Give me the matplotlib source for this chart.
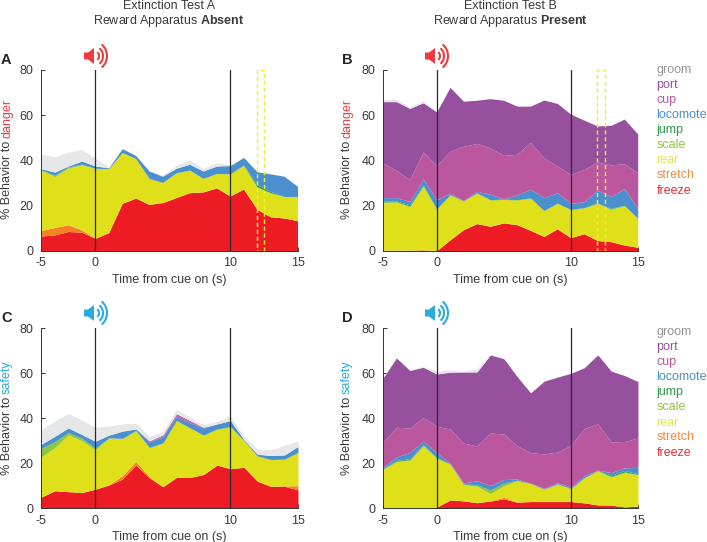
import numpy as np
import matplotlib
matplotlib.use("Agg")
import matplotlib.pyplot as plt
from matplotlib.patches import Polygon, Arc, Rectangle

plt.rcParams['font.family'] = ['Liberation Sans', 'DejaVu Sans']
plt.rcParams['mathtext.fontset'] = 'custom'
plt.rcParams['mathtext.bf'] = 'Liberation Sans:bold'
plt.rcParams['mathtext.rm'] = 'Liberation Sans'

W, H = 707, 542
seconds = list(range(-4, 16))
tick_pos = [-4, 0, 10, 15]
tick_labels = ['-5', '0', '10', '15']
y_ticks = [0, 20, 40, 60, 80]
behaviors = ['freeze', 'stretch', 'rear', 'scale', 'jump', 'locomote', 'cup', 'port', 'groom']
band_colors = ['#ED1C24', '#F58220', '#E0E01A', '#8DC63F', '#2E9B47', '#4A90CF', '#BA579E', '#96509E', '#E6E7E8']
legend_colors = ['#ED2F36', '#F58A3A', '#E3E34A', '#8DC63F', '#2E9B47', '#4A90CF', '#BA579E', '#96509E', '#939598']

# cumulative upper edge of each behaviour band
A_freeze = [6.5, 7, 8.5, 8.2, 5.5, 8, 21, 23.3, 20.5, 21.3, 23.5, 25.7, 26, 27.8, 24.2, 27.3, 18.3, 15, 14.5, 13.3]
A_stretch = [9, 10.3, 11.5, 9.2, 5.5, 8, 21, 23.3, 20.5, 21.3, 23.5, 25.7, 26, 27.8, 24.2, 27.3, 18.3, 15, 14.5, 13.3]
A_rear = [35.5, 32.8, 36.5, 38, 36.5, 36.3, 43.5, 40.8, 32, 30.2, 34.5, 35.7, 32, 34.2, 34, 37.8, 28, 25.5, 24, 24]
A_scale = [35.7, 33.3, 37, 38.2, 36.5, 36.3, 43.5, 40.8, 32, 30.2, 34.5, 35.7, 32, 34.2, 34, 37.8, 28.3, 25.7, 24, 24]
A_jump = [35.8, 33.4, 37.1, 38.3, 36.5, 36.3, 43.5, 40.8, 32, 30.2, 34.5, 35.7, 32, 34.2, 34, 38, 29.2, 26.3, 24, 24]
A_locomote = [36.3, 34.8, 37.5, 39.7, 37.5, 36.7, 45.2, 42.2, 35.3, 33, 36.5, 38.3, 35.3, 37.5, 37.7, 41.3, 35, 34, 33, 28.5]
A_cup = list(A_locomote)
A_port = list(A_locomote)
A_groom = [43, 41.5, 43.7, 44.7, 41, 37, 45.2, 42.4, 35.6, 33.4, 37.8, 40.2, 36.5, 39, 38, 41.3, 35, 34, 33, 28.5]

B_freeze = [0, 0, 0, 0.3, 0, 4.8, 9.3, 12, 10.8, 12.3, 11.5, 9, 6.3, 9.7, 5.8, 7.5, 4.5, 4, 2.5, 1.5]
B_stretch = [0.2, 0.2, 0.2, 0.4, 0, 4.8, 9.3, 12, 10.8, 12.3, 11.5, 9, 6.3, 9.7, 5.8, 7.5, 4.5, 4, 2.5, 1.5]
B_rear = [21.3, 21.5, 19.5, 28.5, 18.3, 24.7, 22, 25.5, 22.5, 22.7, 22.5, 23.3, 17.7, 21, 18.2, 19, 21, 18.2, 20, 14.3]
B_scale = [21.5, 21.7, 19.7, 28.7, 18.4, 24.7, 22, 25.5, 22.5, 22.7, 22.5, 23.3, 17.7, 21, 18.2, 19, 21, 18.5, 20, 14.3]
B_jump = [22, 22, 20.3, 29.2, 18.5, 24.8, 22.1, 25.6, 22.6, 22.8, 22.6, 23.4, 17.8, 21.1, 18.3, 19.1, 21.1, 18.8, 20.1, 14.4]
B_locomote = [23.5, 23.5, 21.8, 31.8, 22.5, 25.5, 22.2, 26.3, 25, 23, 24.7, 27.2, 23.5, 25.7, 21, 21.7, 26.8, 24, 27.5, 18.7]
B_cup = [38.8, 35.5, 31.5, 43.7, 37.8, 44, 46.2, 47.5, 45.5, 42.2, 42.7, 48, 41, 37.5, 33.7, 36, 39.3, 38, 38.5, 34.5]
B_port = [66, 66, 63, 65.5, 61.5, 72.3, 66.2, 66.6, 67.3, 66.6, 64, 64, 66.7, 65.2, 60.5, 57.8, 55.3, 55.5, 58.3, 51.7]
B_groom = [67, 67, 63.7, 66.3, 61.7, 72.3, 66.2, 66.6, 67.3, 66.6, 64, 64, 66.7, 65.2, 60.5, 57.8, 55.7, 55.7, 58.3, 51.7]

C_freeze = [5, 7.8, 7.4, 7, 8.5, 10.3, 13, 19.2, 13.5, 9.6, 13.7, 13.7, 15, 19.2, 17.6, 18.2, 12, 9.7, 9.8, 8.2]
C_stretch = [5, 7.8, 7.4, 7, 8.5, 10.5, 14.5, 20.8, 14, 9.6, 13.7, 13.7, 15, 19.2, 17.6, 18.2, 12, 9.8, 10, 10]
C_rear = [22.8, 27, 32.7, 30, 26, 31.3, 31, 34.5, 27, 29, 39, 35.7, 32.5, 35.2, 36.2, 30, 23.2, 21.6, 21.8, 24.8]
C_scale = [26.5, 29.5, 33.5, 31, 26.5, 31.3, 31, 34.5, 27, 29, 39, 35.7, 32.5, 35.2, 36.2, 30, 23.2, 21.6, 21.8, 24.8]
C_jump = [26.7, 29.7, 33.7, 31.2, 26.7, 31.4, 31.1, 34.6, 27.1, 29.1, 39.1, 35.8, 32.6, 35.3, 36.3, 30.1, 23.3, 21.7, 21.9, 24.9]
C_locomote = [28.5, 32, 35.7, 32.8, 29.8, 32.5, 34.3, 35.3, 29.5, 31.8, 40.7, 38, 35.7, 37.5, 39, 30.5, 24, 23.5, 23.7, 27.5]
C_cup = [28.5, 32, 35.7, 32.8, 29.8, 32.5, 34.3, 35.3, 29.7, 32.2, 41.5, 38.5, 35.9, 37.5, 39, 30.5, 24, 23.5, 23.7, 27.5]
C_port = [28.5, 32, 35.7, 32.8, 29.8, 32.5, 34.3, 35.3, 30, 32.6, 42, 39, 36, 37.5, 39, 30.5, 24, 23.5, 23.7, 27.5]
C_groom = [35, 38.8, 42.2, 39.3, 36, 36.5, 37.5, 37.8, 32, 34, 44, 40.5, 37.2, 38.7, 41, 32, 26.3, 26, 28, 30]

D_freeze = [0, 0, 0, 0, 0.5, 3.7, 3.3, 2.5, 3.2, 4.2, 2.7, 3, 3, 3, 3, 2.4, 1.5, 1.4, 0.6, 1]
D_stretch = [0, 0, 0, 0, 0.5, 3.7, 3.3, 2.5, 3.3, 4.9, 2.8, 3, 3, 3, 3, 2.4, 1.5, 1.4, 0.6, 1]
D_rear = [17.3, 20.7, 21.3, 27.8, 22.2, 19.5, 10.5, 9.8, 6.5, 10, 12.2, 11, 8.5, 10.8, 8.8, 13.5, 16.7, 13.8, 15.8, 14.8]
D_scale = [17.5, 20.9, 21.6, 28, 22.4, 19.7, 10.7, 10.3, 8, 11, 12.4, 11, 8.5, 10.8, 8.8, 13.6, 16.7, 14.2, 16.2, 15]
D_jump = [17.7, 21.3, 22, 28.3, 22.6, 19.8, 10.8, 10.5, 8.2, 11.3, 12.5, 11, 8.6, 10.9, 8.9, 13.7, 16.8, 14.8, 16.8, 15.3]
D_locomote = [18.2, 22.8, 24.8, 29.8, 24.8, 20, 11.3, 12.2, 10.2, 12.8, 13, 11.1, 8.9, 11.4, 9.5, 14.5, 17, 15.9, 18, 18.2]
D_cup = [29.3, 36, 35.7, 40.3, 36.5, 35.2, 29, 27.7, 33.5, 33, 27.8, 24.7, 24.2, 25, 28, 35.5, 37.5, 29.5, 29.7, 31.3]
D_port = [58, 66.8, 61.3, 62.7, 59.7, 60.5, 60.6, 60.6, 68.2, 66.5, 58.5, 51.3, 56.5, 58.3, 60, 62.5, 68.2, 61, 59, 56.3]
D_groom = [58.5, 66.8, 61.5, 63, 61, 61.5, 60.8, 62, 68.5, 66.5, 58.5, 51.3, 56.5, 58.3, 60, 62.5, 68.2, 61, 59, 56.3]

panel_A = [A_freeze, A_stretch, A_rear, A_scale, A_jump, A_locomote, A_cup, A_port, A_groom]
panel_B = [B_freeze, B_stretch, B_rear, B_scale, B_jump, B_locomote, B_cup, B_port, B_groom]
panel_C = [C_freeze, C_stretch, C_rear, C_scale, C_jump, C_locomote, C_cup, C_port, C_groom]
panel_D = [D_freeze, D_stretch, D_rear, D_scale, D_jump, D_locomote, D_cup, D_port, D_groom]

DANGER, SAFETY = '#EF3B3F', '#29ABE2'
TXT = '#3a3a3a'
FS = 9.0
fig = plt.figure(figsize=(W / 100, H / 100), dpi=100)


def fx(p): return p / W
def fy(p): return 1 - p / H


def speaker(cx, cy, color):
    ax = fig.add_axes([0, 0, 1, 1], facecolor='none')
    ax.set_xlim(0, W); ax.set_ylim(H, 0); ax.axis('off')
    ax.set_zorder(5)
    ax.add_patch(Polygon([(cx - 12, cy - 3.5), (cx - 8, cy - 3.5), (cx - 2, cy - 8),
                          (cx - 2, cy + 8), (cx - 8, cy + 3.5), (cx - 12, cy + 3.5)],
                         closed=True, fc=color, ec='none'))
    for r in (4, 8, 12):
        ax.add_patch(Arc((cx - 1, cy), 2 * r, 2 * r * 1.15, theta1=-60, theta2=60, color=color, lw=1.5))


def panel(bands, left, right, top, bottom, word, wcolor, dashed, label_x, label_bottom):
    ax = fig.add_axes([fx(left), fy(bottom), (right - left) / W, (bottom - top) / H])
    lower = np.zeros(len(seconds))
    for band, c in zip(bands, band_colors):
        upper = np.array(band, dtype=float)
        ax.fill_between(seconds, lower, upper, color=c, lw=0, zorder=2)
        lower = upper
    ax.set_xlim(seconds[0], seconds[-1])
    ax.set_ylim(0, 80)
    ax.set_xticks(tick_pos, tick_labels)
    ax.set_yticks(y_ticks)
    ax.tick_params(direction='in', length=3, width=0.7, color='#333333', labelcolor=TXT,
                   labelsize=FS)
    ax.tick_params(axis='y', pad=5.5)
    ax.tick_params(axis='x', pad=4.8)
    for s in ('top', 'right'):
        ax.spines[s].set_visible(False)
    for s in ('left', 'bottom'):
        ax.spines[s].set_linewidth(0.7)
        ax.spines[s].set_color('#333333')
        ax.spines[s].set_zorder(6)
    for v in (0, 10):
        ax.axvline(v, color='#2a2a2a', lw=0.9, zorder=4)
    if dashed:
        ax.add_patch(Rectangle((12, 0), 0.55, 80, fc='none', ec='#F4EE30', lw=1.0,
                               ls=(0, (3, 2)), zorder=5, clip_on=False))
    ax.set_xlabel('Time from cue on (s)', fontsize=FS, color=TXT, labelpad=3)
    r = fig.canvas.get_renderer()
    t1 = fig.text(fx(label_x), fy(label_bottom), '% Behavior to', rotation=90, ha='center', va='bottom',
                  fontsize=FS, color=TXT)
    bb = t1.get_window_extent(r)
    fig.text(fx(label_x), bb.y1 / H + 3 / H, word, rotation=90, ha='center', va='bottom',
             fontsize=FS, color=wcolor)
    return ax


panel(panel_A, 41.3, 297.5, 70, 250.7, 'danger', DANGER, True, 7, 219)
panel(panel_B, 383, 637.7, 70, 250.7, 'danger', DANGER, True, 347, 219)
panel(panel_C, 41.3, 298, 328.3, 508.3, 'safety', SAFETY, False, 7, 475)
panel(panel_D, 383, 638, 328.3, 508.3, 'safety', SAFETY, False, 347, 475)

for x, line1, word in [(169, 'Extinction Test A', 'Absent'), (510, 'Extinction Test B', 'Present')]:
    fig.text(fx(x), fy(6), line1, ha='center', va='center', fontsize=FS, color=TXT)
    fig.text(fx(x), fy(21), 'Reward Apparatus $\\mathbf{%s}$' % word, ha='center', va='center', fontsize=FS, color=TXT)

for label, x, y in [('A', 1, 60), ('B', 342, 60), ('C', 1, 318), ('D', 342, 318)]:
    fig.text(fx(x), fy(y), label, ha='left', va='center', fontsize=10.5, fontweight='bold', color='#222222')

leg_rows = [190.5, 175, 160.5, 145, 130, 115, 100, 84.7, 70]
for off in (0, 262):
    for name, c, y in zip(behaviors, legend_colors, leg_rows):
        fig.text(fx(656.5), fy(y + off), name, ha='left', va='center', fontsize=FS, color=c)

speaker(96, 56, DANGER)
speaker(437, 56, DANGER)
speaker(96, 313, SAFETY)
speaker(437, 313, SAFETY)

fig.savefig('out.png', dpi=100)
